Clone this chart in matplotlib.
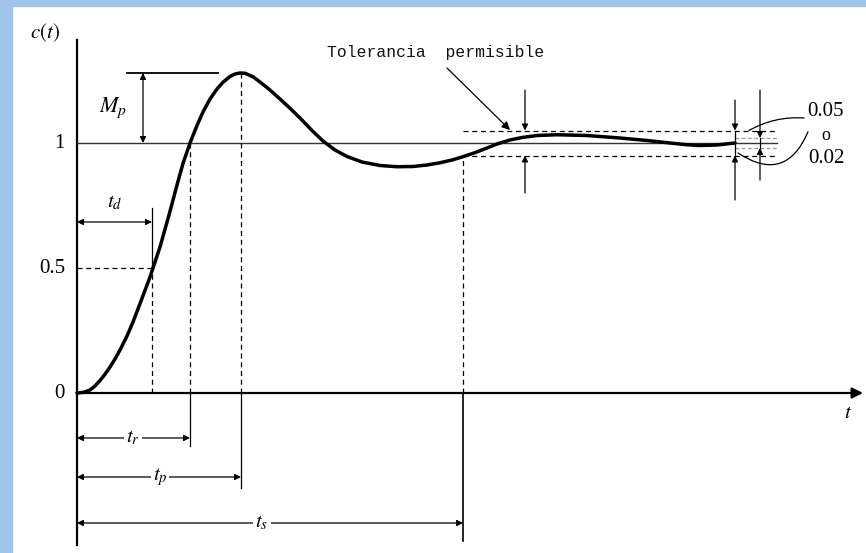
import matplotlib
matplotlib.use("Agg")
import matplotlib.pyplot as plt
from matplotlib.patches import Rectangle

plt.rcParams['mathtext.fontset'] = 'stix'
plt.rcParams['font.family'] = 'Liberation Serif'

# respuesta al escalon (t, c(t))
t_curve = [0.0, 0.07, 0.13, 0.18, 0.23, 0.28, 0.33, 0.38, 0.43, 0.50, 0.56, 0.64,
           0.73, 0.83, 0.92, 1.00, 1.06, 1.13, 1.20, 1.26, 1.33, 1.40, 1.46,
           1.53, 1.58, 1.63, 1.68, 1.76, 1.83, 1.93, 2.03, 2.13, 2.23, 2.35,
           2.46, 2.58, 2.70, 2.85, 3.03, 3.20, 3.36, 3.50, 3.63, 3.75, 3.85,
           3.97, 4.10, 4.20, 4.33, 4.45, 4.60, 4.80, 5.10, 5.43, 5.70, 5.93,
           6.10, 6.23, 6.40, 6.58]
c_curve = [0.0, 0.003, 0.012, 0.028, 0.050, 0.075, 0.104, 0.136, 0.172, 0.228, 0.284, 0.368,
           0.464, 0.584, 0.712, 0.832, 0.918, 1.000, 1.070, 1.124, 1.176, 1.216, 1.243,
           1.266, 1.276, 1.280, 1.279, 1.265, 1.244, 1.212, 1.176, 1.139, 1.100, 1.050,
           1.008, 0.972, 0.946, 0.924, 0.910, 0.905, 0.906, 0.912, 0.921, 0.932, 0.944,
           0.960, 0.980, 0.996, 1.012, 1.022, 1.030, 1.033, 1.030, 1.020, 1.010, 1.000,
           0.993, 0.990, 0.992, 1.000]

# tiempos caracteristicos
t_d = 0.75
t_r = 1.13
t_p = 1.64
t_s = 3.86
M_peak = 1.28
tol_5 = 0.05
tol_2 = 0.02
t_end = 6.58

y_ticks = [0, 0.5, 1]
y_ticklabels = ['0', '0.5', '1']

fig = plt.figure(figsize=(8.66, 5.53), dpi=100)
fig.patches.append(Rectangle((0, 0), 12 / 866, 1, transform=fig.transFigure,
                             color='#9fc4e7', zorder=0))
fig.patches.append(Rectangle((0, 1 - 6 / 553), 1, 6 / 553, transform=fig.transFigure,
                             color='#9fc4e7', zorder=0))

ax = fig.add_axes([0, 0, 1, 1])
ax.set_xlim(-0.77, 7.89)
ax.set_ylim(-0.64, 1.572)
ax.axis('off')

k = 'black'
thin = 0.9

# ejes
ax.plot([0, 0], [-0.608, 1.412], color=k, lw=1.6)
ax.annotate('', xy=(7.86, 0), xytext=(0, 0),
            arrowprops=dict(arrowstyle='-|>', color=k, lw=1.6, mutation_scale=16,
                            shrinkA=0, shrinkB=0))
ax.plot([0, 7.0], [1, 1], color='#333333', lw=1.0)

# curva
ax.plot(t_curve, c_curve, color=k, lw=2.5, solid_capstyle='round', solid_joinstyle='round')

# lineas auxiliares
ax.plot([0, t_d], [0.5, 0.5], color=k, lw=thin, ls=(0, (4, 3)))
ax.plot([t_d, t_d], [0, 0.5], color=k, lw=thin, ls=(0, (4, 3)))
ax.plot([t_d, t_d], [0.5, 0.74], color=k, lw=thin)
ax.plot([t_r, t_r], [0, 1], color=k, lw=thin, ls=(0, (4, 3)))
ax.plot([t_r, t_r], [-0.21, 0], color=k, lw=thin)
ax.plot([t_p, t_p], [0, M_peak], color=k, lw=thin, ls=(0, (4, 3)))
ax.plot([t_p, t_p], [-0.38, 0], color=k, lw=thin)
ax.plot([t_s, t_s], [0, 0.944], color=k, lw=thin, ls=(0, (4, 3)))
ax.plot([t_s, t_s], [-0.59, 0], color=k, lw=1.2)

# banda de tolerancia
ax.plot([t_s, 7.0], [1 + tol_5, 1 + tol_5], color=k, lw=thin, ls=(0, (4, 3)))
ax.plot([t_s, 7.0], [1 - tol_5, 1 - tol_5], color=k, lw=thin, ls=(0, (4, 3)))
ax.plot([t_end, 7.0], [1 + tol_2, 1 + tol_2], color='#999999', lw=thin, ls=(0, (3, 2)))
ax.plot([t_end, 7.0], [1 - tol_2, 1 - tol_2], color='#999999', lw=thin, ls=(0, (3, 2)))

arr = dict(arrowstyle='-|>', color=k, lw=thin, mutation_scale=9, shrinkA=0, shrinkB=0)
dbl = dict(arrowstyle='<|-|>', color=k, lw=thin, mutation_scale=9, shrinkA=0, shrinkB=0)

for xa, top, bot, tol in [(4.48, 1.212, 0.80, tol_5), (t_end, 1.172, 0.772, tol_5),
                          (6.83, 1.212, 0.852, tol_2)]:
    ax.annotate('', xy=(xa, 1 + tol), xytext=(xa, top), arrowprops=arr)
    ax.annotate('', xy=(xa, 1 - tol), xytext=(xa, bot), arrowprops=arr)
ax.plot([t_end, t_end], [1 - tol_5, 1 + tol_5], color=k, lw=thin)
ax.plot([6.83, 6.83], [1 - tol_2, 1 + tol_2], color=k, lw=thin)

# Mp
ax.plot([0.5, 1.41], [M_peak, M_peak], color=k, lw=1.3)
ax.annotate('', xy=(0.66, M_peak), xytext=(0.66, 1), arrowprops=dbl)
ax.text(0.36, 1.14, '$M_p$', fontsize=16, ha='center', va='center')

# flechas de tiempos
for tv, yv, lab, xl in [(t_d, 0.684, '$t_d$', None), (t_r, -0.18, '$t_r$', 0.56),
                        (t_p, -0.336, '$t_p$', 0.83), (t_s, -0.52, '$t_s$', 1.85)]:
    ax.annotate('', xy=(tv, yv), xytext=(0, yv), arrowprops=dbl)
    if xl is None:
        ax.text(tv / 2, yv + 0.075, lab, fontsize=15, ha='center', va='center')
    else:
        ax.text(xl, yv, lab, fontsize=15, ha='center', va='center',
                bbox=dict(facecolor='white', edgecolor='none', pad=1.5))

# textos
for yv, lab in zip(y_ticks, y_ticklabels):
    ax.text(-0.12, yv, lab, fontsize=15, ha='right', va='center')
ax.text(-0.32, 1.44, '$c(t)$', fontsize=15, ha='center', va='center')
ax.text(7.71, -0.08, '$t$', fontsize=15, ha='center', va='center')

ax.text(3.59, 1.36, 'Tolerancia  permisible', family='Liberation Mono', fontsize=11.8,
        ha='center', va='center', color='#111111')
ax.annotate('', xy=(4.33, 1.052), xytext=(3.70, 1.30),
            arrowprops=dict(arrowstyle='-|>', color=k, lw=thin, mutation_scale=12,
                            shrinkA=0, shrinkB=0))

ax.text(7.49, 1.124, '0.05', fontsize=15, ha='center', va='center')
ax.text(7.49, 1.03, 'o', fontsize=13, ha='center', va='center')
ax.text(7.49, 0.94, '0.02', fontsize=15, ha='center', va='center')
ax.annotate('', xy=(6.72, 1.05), xytext=(7.27, 1.10),
            arrowprops=dict(arrowstyle='-', color=k, lw=thin, shrinkA=0, shrinkB=0,
                            connectionstyle='arc3,rad=0.15'))
ax.annotate('', xy=(6.61, 0.96), xytext=(7.31, 1.045),
            arrowprops=dict(arrowstyle='-', color=k, lw=thin, shrinkA=0, shrinkB=0,
                            connectionstyle='arc3,rad=-0.6'))

fig.savefig('out.png', dpi=100)
